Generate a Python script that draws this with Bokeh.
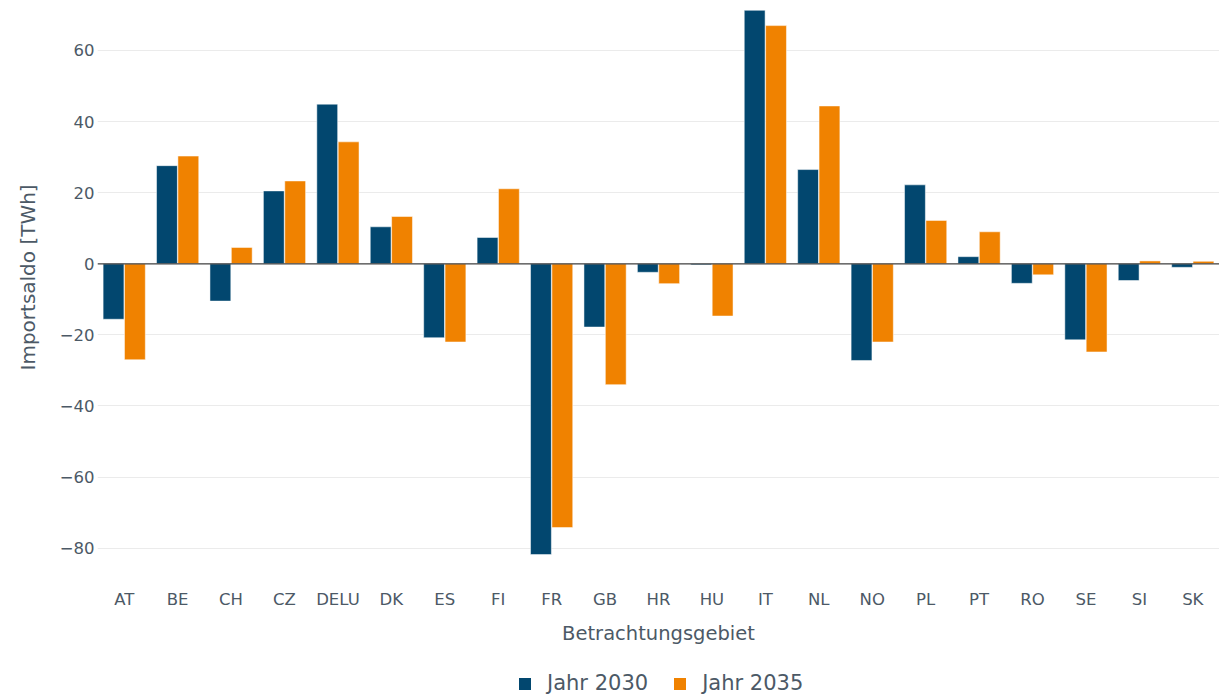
from bokeh.plotting import figure
from bokeh.layouts import column
from bokeh.models import (ColumnDataSource, FactorRange, Range1d, FixedTicker,
                          CustomJSTickFormatter, Span, Legend, LegendItem, Title)
from bokeh.transform import dodge
from bokeh.embed import file_html
from bokeh.resources import INLINE

categories = ["AT", "BE", "CH", "CZ", "DELU", "DK", "ES", "FI", "FR", "GB", "HR",
              "HU", "IT", "NL", "NO", "PL", "PT", "RO", "SE", "SI", "SK"]
jahr_2030 = [-15.6, 27.6, -10.5, 20.5, 44.9, 10.4, -20.8, 7.4, -81.8, -17.8, -2.4,
             -0.3, 71.3, 26.5, -27.2, 22.2, 2.0, -5.5, -21.4, -4.7, -1.0]
jahr_2035 = [-27.0, 30.3, 4.6, 23.3, 34.3, 13.3, -22.0, 21.1, -74.2, -34.0, -5.6,
             -14.7, 67.0, 44.4, -22.0, 12.2, 9.0, -3.1, -24.8, 0.8, 0.7]
series_names = ["Jahr 2030", "Jahr 2035"]
y_ticks = [-80, -60, -40, -20, 0, 20, 40, 60]

BLUE = "#02476F"
ORANGE = "#F08200"
TEXT = "#4C5966"
FONT = "DejaVu Sans"

source = ColumnDataSource(dict(cat=categories, y30=jahr_2030, y35=jahr_2035))

p = figure(width=1219, height=668, output_backend="svg", toolbar_location=None,
           x_range=FactorRange(factors=categories, range_padding=0),
           y_range=Range1d(-90.5, 74.06),
           min_border_left=97, min_border_right=0, min_border_top=0,
           min_border_bottom=83)
p.outline_line_color = None
p.background_fill_color = "white"

r1 = p.vbar(x=dodge("cat", -0.2, range=p.x_range), top="y30", bottom=0, width=0.39,
            source=source, fill_color=BLUE, line_color="white", line_width=0.5)
r2 = p.vbar(x=dodge("cat", 0.2, range=p.x_range), top="y35", bottom=0, width=0.39,
            source=source, fill_color=ORANGE, line_color="white", line_width=0.5)

p.add_layout(Span(location=0, dimension="width", line_color="#444444", line_width=1.3))

# axes
p.xgrid.grid_line_color = None
p.ygrid.grid_line_color = "#EBEBEB"
p.ygrid.grid_line_width = 1

p.yaxis.ticker = FixedTicker(ticks=y_ticks)
p.yaxis.formatter = CustomJSTickFormatter(
    code="return (tick < 0 ? '\u2212' : '') + Math.abs(tick).toString();")
for ax in (p.xaxis[0], p.yaxis[0]):
    ax.axis_line_color = None
    ax.major_tick_line_color = None
    ax.minor_tick_line_color = None
    ax.major_tick_out = 0
    ax.major_tick_in = 0
    ax.minor_tick_out = 0
    ax.minor_tick_in = 0
    ax.major_label_text_font = FONT
    ax.major_label_text_font_size = "16.5px"
    ax.major_label_text_color = TEXT
p.yaxis.major_label_standoff = 3
p.xaxis.major_label_standoff = 4

p.xaxis.axis_label = "Betrachtungsgebiet"
p.xaxis.axis_label_text_font = FONT
p.xaxis.axis_label_text_font_size = "19.5px"
p.xaxis.axis_label_text_font_style = "normal"
p.xaxis.axis_label_text_color = TEXT
p.xaxis.axis_label_standoff = 10

ytitle = Title(text="Importsaldo [TWh]", align="left", offset=215,
               vertical_align="top",
               text_font=FONT, text_font_size="20px", text_font_style="normal",
               text_color=TEXT, standoff=29)
p.add_layout(ytitle, "left")

# legend strip below the chart (its bars fall outside its own y range)
leg = figure(width=1219, height=30, output_backend="svg", toolbar_location=None,
             x_range=FactorRange(factors=categories), y_range=Range1d(500, 600),
             x_axis_type=None, y_axis_type=None,
             min_border_left=0, min_border_right=0, min_border_top=0,
             min_border_bottom=0)
leg.outline_line_color = None
leg.xgrid.grid_line_color = None
leg.ygrid.grid_line_color = None
l1 = leg.vbar(x="cat", top="y30", bottom=0, width=0.4, source=source,
              fill_color=BLUE, line_color=None)
l2 = leg.vbar(x="cat", top="y35", bottom=0, width=0.4, source=source,
              fill_color=ORANGE, line_color=None)

legend = Legend(items=[LegendItem(label=series_names[0], renderers=[l1]),
                       LegendItem(label=series_names[1], renderers=[l2])],
                orientation="horizontal", location=(420, 3),
                label_text_font=FONT, label_text_font_size="21px",
                label_text_color=TEXT, glyph_width=15, glyph_height=15,
                label_height=20, label_standoff=15, spacing=24, margin=0, padding=2,
                border_line_color=None, background_fill_alpha=0)
leg.add_layout(legend, "center")

layout = column(p, leg, spacing=0)
open("out.html", "w").write(file_html(layout, INLINE))
